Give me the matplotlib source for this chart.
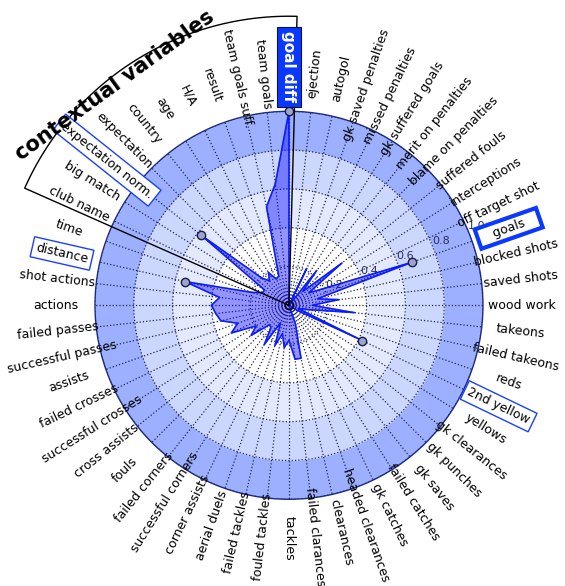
import matplotlib
matplotlib.use("Agg")
import matplotlib.pyplot as plt
import numpy as np

# categories, clockwise from the top
labels = [
    "goal diff", "ejection", "autogol", "gk saved penalties", "missed penalties",
    "gk suffered goals", "merit on penalties", "blame on penalties", "suffered fouls",
    "interceptions", "off target shot", "goals", "blocked shots", "saved shots",
    "wood work", "takeons", "failed takeons", "reds", "2nd yellow", "yellows",
    "gk clearances", "gk punches", "gk saves", "failed catches", "gk catches",
    "headed clearances", "clearances", "failed clarances", "tackles", "fouled tackles",
    "failed tackles", "aerial duels", "corner assists", "successful corners",
    "failed corners", "fouls", "cross assists", "successful crosses", "failed crosses",
    "assists", "successful passes", "failed passes", "actions", "shot actions",
    "distance", "time", "club name", "big match", "expectation norm.", "expectation",
    "country", "age", "H/A", "result", "team goals suff.", "team goals",
]
values = [
    1.0, 0.0, 0.0, 0.0, 0.21,
    0.0, 0.23, 0.10, 0.35,
    0.12, 0.20, 0.67, 0.15, 0.26,
    0.12, 0.34, 0.10, 0.05, 0.42, 0.05,
    0.0, 0.0, 0.0, 0.0, 0.0,
    0.10, 0.28, 0.28, 0.18, 0.22,
    0.15, 0.22, 0.10, 0.24,
    0.15, 0.14, 0.25, 0.20, 0.33,
    0.28, 0.36, 0.38, 0.40, 0.36,
    0.55, 0.20, 0.15, 0.15, 0.58, 0.20,
    0.16, 0.20, 0.15, 0.16, 0.52, 0.63,
]
highlight = ["goal diff", "goals", "2nd yellow", "distance", "expectation norm."]
band_edges = [0.4, 0.6, 0.8, 1.0]
band_colors = ["#e3e9ff", "#ccd7ff", "#9cb0ff"]
rticks = [0.2, 0.4, 0.6, 0.8, 1.0]
# contextual sector, in degrees clockwise from the top
context_span = (-66.1, 1.6)
context_r = 1.49

n = len(labels)
step = 2 * np.pi / n
theta = np.arange(n) * step

fig = plt.figure(figsize=(5.65, 5.86), dpi=100)
ax = fig.add_axes([0.1681, 0.148, 0.6867, 0.6621], projection="polar")
ax.set_theta_offset(np.pi / 2)
ax.set_theta_direction(-1)
ax.set_ylim(0, 1)

# background rings
ring = np.linspace(0, 2 * np.pi, 400)
for r0, r1, c in zip(band_edges[:-1], band_edges[1:], band_colors):
    ax.fill_between(ring, r0, r1, color=c, lw=0, zorder=0.5)

ax.set_xticks(theta)
ax.set_xticklabels([])
ax.set_rgrids(rticks, [f"{t:.1f}" for t in rticks], angle=67.5,
              fontsize=8, color="#2b2f55")
ax.grid(True, linestyle=":", color="#22264a", linewidth=0.9)
ax.spines["polar"].set_color("#1c2a80")
ax.spines["polar"].set_linewidth(1.0)

# data polygon
tc = np.append(theta, theta[0])
vc = np.append(values, values[0])
ax.fill(tc, vc, color="#0000ff", alpha=0.42, zorder=2)
ax.plot(tc, vc, color="#0a1cff", lw=1.1, zorder=3)
idx = [labels.index(h) for h in highlight]
ax.plot(theta[idx], np.array(values)[idx], "o", ms=6, mfc="#9da3cf",
        mec="#1a1d45", mew=1.0, ls="none", zorder=4, clip_on=False)
ax.plot([0], [0], "o", ms=6, mfc="none", mec="#111", mew=1.2, zorder=4)

# category labels
for t, name in zip(theta, labels):
    a = (90 - np.degrees(t)) % 360
    rot = a - 180 if 90 <= a < 270 else (a if a < 90 else a - 360)
    kw = dict(rotation=rot, rotation_mode="anchor", ha="center", va="center",
              fontsize=9, zorder=6)
    if name == "goal diff":
        kw.update(color="white", fontweight="bold", fontsize=11,
                  bbox=dict(boxstyle="square,pad=0.3", fc="#0a38ff", ec="#101050", lw=0.8))
        ax.text(t, 1.23, name, **kw)
        continue
    if name == "goals":
        kw["bbox"] = dict(boxstyle="square,pad=0.3", fc="white", ec="#0a38ff", lw=3)
        name = "   " + name + "   "
    elif name in highlight:
        kw["bbox"] = dict(boxstyle="square,pad=0.3", fc="white", ec="#1a40ff", lw=1)
    ax.text(t, 1.2, name, **kw)

# contextual variables sector outline
a0, a1 = np.radians(context_span)
arc = np.linspace(a0, a1, 100)
ax.plot(np.concatenate([[a0], arc, [a1]]), np.concatenate([[0], np.full(100, context_r), [0]]),
        color="black", lw=1, clip_on=False, zorder=5)

fig.text(0.2035, 0.855, "contextual variables", rotation=36, ha="center", va="center",
         fontsize=15, fontweight="bold")

fig.savefig("out.png", dpi=100)
